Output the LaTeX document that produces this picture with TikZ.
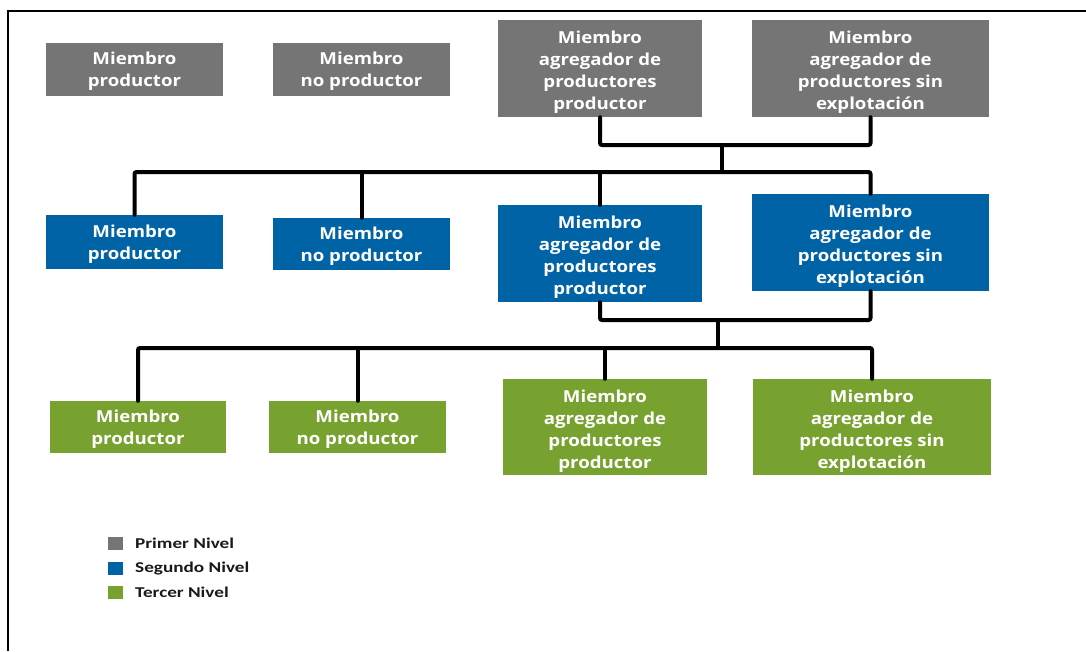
\documentclass[tikz,border=0pt]{standalone}
\usepackage{fontspec}
\newfontfamily\boxfont{Open Sans}[BoldFont={Open Sans Bold}, FakeStretch=1.13]
\newfontfamily\legfont{Carlito}[FakeStretch=1.28]
\definecolor{cgray}{HTML}{757575}
\definecolor{cblue}{HTML}{0063A6}
\definecolor{cgreen}{HTML}{78A22F}
\tikzset{
  mbox/.style={inner sep=0pt},
  mtext/.style={inner sep=0pt, align=center, text=white, yshift=-2pt,
    font=\boxfont\bfseries\fontsize{16.5}{22}\selectfont},
  mtextb/.style={mtext, yshift=-2pt},
  conn/.style={line width=4pt, line cap=round, rounded corners=2pt, draw=black},
  legsq/.style={inner sep=0pt, minimum width=15pt, minimum height=13pt},
  legtxt/.style={anchor=west, inner sep=0pt, text=black!90,
    font=\legfont\bfseries\fontsize{15}{18}\selectfont}
}
\begin{document}
\begin{tikzpicture}[x=1pt,y=-1pt]
\useasboundingbox (0,0) rectangle (1086,651);
\fill[white] (0,0) rectangle (1086,651);
\draw[line width=2pt] (1086,11) -- (8,11) -- (8,651);

% Row 1
\node[mbox, fill=cgray, minimum width=177pt, minimum height=53pt, label={[mtext]center:{Miembro\\productor}}] (A1) at (134.5,69.5) {};
\node[mbox, fill=cgray, minimum width=177pt, minimum height=53pt, label={[mtext]center:{Miembro\\no productor}}] (B1) at (361.5,69.5) {};
\node[mbox, fill=cgray, minimum width=204pt, minimum height=97pt, label={[mtextb]center:{Miembro\\agregador de\\productores\\productor}}] (C1) at (600,68.5) {};
\node[mbox, fill=cgray, minimum width=237pt, minimum height=97pt, label={[mtextb]center:{Miembro\\agregador de\\productores sin\\explotación}}] (D1) at (870.5,68.5) {};

% Row 2
\node[mbox, fill=cblue, minimum width=177pt, minimum height=54pt, label={[mtext]center:{Miembro\\productor}}] (A2) at (134.5,242) {};
\node[mbox, fill=cblue, minimum width=177pt, minimum height=52pt, label={[mtext]center:{Miembro\\no productor}}] (B2) at (361.5,244) {};
\node[mbox, fill=cblue, minimum width=204pt, minimum height=97pt, label={[mtextb]center:{Miembro\\agregador de\\productores\\productor}}] (C2) at (600,253.5) {};
\node[mbox, fill=cblue, minimum width=237pt, minimum height=97pt, label={[mtextb]center:{Miembro\\agregador de\\productores sin\\explotación}}] (D2) at (870.5,242.5) {};

% Row 3
\node[mbox, fill=cgreen, minimum width=176pt, minimum height=52pt, label={[mtext]center:{Miembro\\productor}}] (A3) at (138,427) {};
\node[mbox, fill=cgreen, minimum width=177pt, minimum height=52pt, label={[mtext]center:{Miembro\\no productor}}] (B3) at (357.5,427) {};
\node[mbox, fill=cgreen, minimum width=204pt, minimum height=96pt, label={[mtextb]center:{Miembro\\agregador de\\productores\\productor}}] (C3) at (605,427) {};
\node[mbox, fill=cgreen, minimum width=238pt, minimum height=96pt, label={[mtextb]center:{Miembro\\agregador de\\productores sin\\explotación}}] (D3) at (872,427) {};

% Connectors level 1 -> 2
\coordinate (j1) at (722,145);
\coordinate (k1) at (722,172);
\draw[conn] (C1.south) |- (j1) -| (D1.south);
\draw[conn] (j1) -- (k1);
\draw[conn] (A2.north) |- (k1) -| (D2.north);
\draw[conn] (B2.north) -- (B2.north |- k1);
\draw[conn] (C2.north) -- (C2.north |- k1);

% Connectors level 2 -> 3
\coordinate (j2) at (718,320);
\coordinate (k2) at (718,348);
\draw[conn] (C2.south) |- (j2) -| (D2.south);
\draw[conn] (j2) -- (k2);
\draw[conn] (A3.north) |- (k2) -| (D3.north);
\draw[conn] (B3.north) -- (B3.north |- k2);
\draw[conn] (C3.north) -- (C3.north |- k2);

% Legend
\node[legsq, fill=cgray] (l1) at (115.5,543.5) {};
\node[legsq, fill=cblue] (l2) at (115.5,568) {};
\node[legsq, fill=cgreen] (l3) at (115.5,592.5) {};
\node[legtxt] (t1) at (135,543.5) {Primer Nivel};
\node[legtxt] (t2) at (135,568) {Segundo Nivel};
\node[legtxt] (t3) at (135,592.5) {Tercer Nivel};
\end{tikzpicture}
\end{document}
